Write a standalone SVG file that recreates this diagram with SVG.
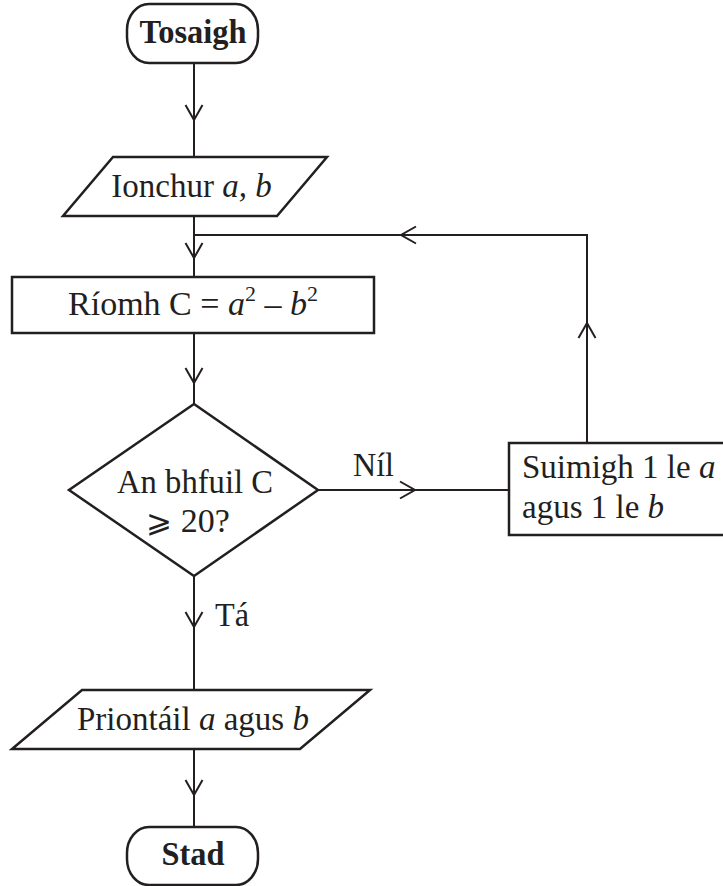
<svg xmlns="http://www.w3.org/2000/svg" width="723" height="886" viewBox="0 0 723 886">
<style>
.shape{fill:#fff;stroke:#231f20;stroke-width:2.5}
.conn{fill:none;stroke:#231f20;stroke-width:2}
text{font-family:"Liberation Serif","Times New Roman",serif;font-size:34px;fill:#231f20}
.s33{font-size:33px}
.b{font-weight:bold}
.i{font-style:italic}
.m{text-anchor:middle}
</style>
<defs>
<marker id="arr" markerUnits="userSpaceOnUse" viewBox="-16 -10 18 20" refX="0" refY="0" markerWidth="18" markerHeight="20" orient="auto" overflow="visible">
<path d="M-15,-8.5 L0,0 L-15,8.5" fill="none" stroke="#231f20" stroke-width="2"/>
</marker>
</defs>
<rect width="723" height="886" fill="#fff"/>
<g id="connectors">
<path class="conn" d="M194,63 V120" marker-end="url(#arr)"/>
<path class="conn" d="M194,120 V157"/>
<path class="conn" d="M194,216 V258" marker-end="url(#arr)"/>
<path class="conn" d="M194,258 V277"/>
<path class="conn" d="M194,333 V383" marker-end="url(#arr)"/>
<path class="conn" d="M194,383 V404"/>
<path class="conn" d="M318,490 H415" marker-end="url(#arr)"/>
<path class="conn" d="M415,490 H509"/>
<path class="conn" d="M587,443 V323" marker-end="url(#arr)"/>
<path class="conn" d="M587,323 V235 H401" marker-end="url(#arr)"/>
<path class="conn" d="M401,235 H194"/>
<path class="conn" d="M194,576 V627" marker-end="url(#arr)"/>
<path class="conn" d="M194,627 V690"/>
<path class="conn" d="M194,749 V795" marker-end="url(#arr)"/>
<path class="conn" d="M194,795 V827"/>
<text x="353" y="476" textLength="41" lengthAdjust="spacingAndGlyphs">Níl</text>
<text x="215" y="626" textLength="34" lengthAdjust="spacingAndGlyphs">Tá</text>
</g>
<g id="start">
<rect class="shape" x="127" y="4" width="131" height="59" rx="22" ry="26"/>
<text class="b m" x="193" y="43" textLength="107" lengthAdjust="spacingAndGlyphs">Tosaigh</text>
</g>
<g id="input">
<polygon class="shape" points="113,157 327,157 277,216 63,216"/>
<text class="m s33" x="191.5" y="197">Ionchur <tspan class="i">a, b</tspan></text>
</g>
<g id="compute">
<rect class="shape" x="12" y="277" width="362" height="56"/>
<text class="m" x="193" y="315">Ríomh C = <tspan class="i">a</tspan><tspan font-size="22" dy="-14">2</tspan><tspan dy="14"> – </tspan><tspan class="i">b</tspan><tspan font-size="22" dy="-14">2</tspan></text>
</g>
<g id="decision">
<polygon class="shape" points="194,404 318,490 194,576 69,490"/>
<text class="m" x="195" y="493" textLength="156" lengthAdjust="spacingAndGlyphs">An bhfuil C</text>
<text class="m" x="188" y="532"><tspan font-family="'DejaVu Serif','Noto Sans',serif" font-size="31">⩾</tspan> 20?</text>
</g>
<g id="increment">
<rect class="shape" x="509" y="443" width="220" height="92"/>
<text class="s33" x="522" y="478">Suimigh 1 le <tspan class="i">a</tspan></text>
<text class="s33" x="522" y="518">agus 1 le <tspan class="i">b</tspan></text>
</g>
<g id="output">
<polygon class="shape" points="82,690 370,690 300,749 12,749"/>
<text class="s33" x="77" y="730">Priontáil <tspan class="i">a</tspan> agus <tspan class="i">b</tspan></text>
</g>
<g id="stop">
<rect class="shape" x="127" y="827" width="131" height="58" rx="22" ry="26"/>
<text class="b m" x="193" y="865" textLength="63" lengthAdjust="spacingAndGlyphs">Stad</text>
</g>
</svg>
